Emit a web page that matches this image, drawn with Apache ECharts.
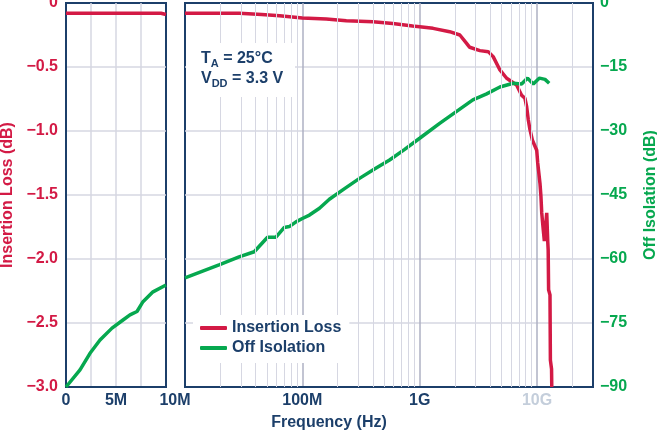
<!DOCTYPE html>
<html>
<head>
<meta charset="utf-8">
<script src="https://cdn.jsdelivr.net/npm/echarts@6/dist/echarts.min.js"></script>
<style>html,body{margin:0;padding:0;background:#fff}#c{width:657px;height:434px}</style>
</head>
<body>
<div id="c"></div>
<script>
// ---- data ----
const linIsoFreq = [0, 1.4e6, 2.4e6, 3.4e6, 4.6e6, 5.7e6, 6.4e6, 7.1e6, 7.7e6, 8.7e6, 10e6];
const linIsoVal  = [-90, -86, -82.1, -79, -76.2, -74.3, -73.1, -72.3, -70, -67.7, -66.1];
const linIlFreq  = [0, 9.5e6, 10e6];
const linIlVal   = [-0.08, -0.08, -0.09];

const logIlFreq = [1e7, 2e7, 2.9e7, 4.5e7, 6.4e7, 1e8, 1.6e8, 2.37e8, 4e8, 5.9e8, 8.7e8, 1.0e9, 1.3e9, 1.8e9, 2.2e9, 2.51e9, 2.67e9, 3.26e9, 3.84e9, 4.23e9, 4.83e9, 5.51e9, 6.7e9, 7.39e9, 7.89e9, 8.16e9, 8.43e9, 8.71e9, 9.12e9, 9.94e9, 1.014e10, 1.06e10, 1.08e10, 1.097e10, 1.13e10, 1.155e10, 1.21e10, 1.234e10, 1.245e10, 1.255e10, 1.29e10, 1.30e10, 1.33e10, 1.336e10];
const logIlVal  = [-0.08, -0.08, -0.08, -0.09, -0.10, -0.117, -0.125, -0.138, -0.146, -0.16, -0.18, -0.185, -0.198, -0.224, -0.25, -0.315, -0.346, -0.372, -0.38, -0.419, -0.523, -0.588, -0.64, -0.72, -0.745, -0.81, -0.914, -0.99, -1.07, -1.15, -1.25, -1.41, -1.51, -1.64, -1.77, -1.86, -1.64, -1.86, -1.93, -2.24, -2.28, -2.79, -2.86, -3.0];

const logIsoFreq = [1e7, 1.95e7, 2.89e7, 3.89e7, 5.05e7, 5.96e7, 7.02e7, 7.74e7, 8.83e7, 1.0e8, 1.15e8, 1.4e8, 1.7e8, 2.29e8, 3.07e8, 4.12e8, 5.54e8, 7.45e8, 1.0e9, 1.48e9, 2.84e9, 3.72e9, 4.83e9, 6.27e9, 7.39e9, 8.3e9, 9.29e9, 1.05e10, 1.17e10, 1.27e10];
const logIsoVal  = [-64.4, -61.4, -59.5, -58.3, -54.9, -54.9, -52.6, -52.4, -51.3, -50.5, -49.7, -48.1, -46.0, -43.5, -41.1, -38.9, -36.8, -34.3, -31.7, -28.2, -22.7, -21.3, -19.7, -18.8, -19.0, -17.6, -19.0, -17.6, -17.9, -18.8];

const ilTickLabels  = {'0':'0','-0.5':'\u22120.5','-1':'\u22121.0','-1.5':'\u22121.5','-2':'\u22122.0','-2.5':'\u22122.5','-3':'\u22123.0'};
const isoTickLabels = {'0':'0','-15':'\u221215','-30':'\u221230','-45':'\u221245','-60':'\u221260','-75':'\u221275','-90':'\u221290'};
const linXTickLabels = {'0':'0','5000000':'5M'};
const logXTickLabels = {7:'{a|10M}', 8:'100M', 9:'1G', 10:'{f|10G}'};

// ---- styles ----
const RED = '#d31a45', GREEN = '#06a84f', NAVY = '#1c3f6a';
const GRID_C = '#d6d7e2', MAJOR_C = '#aeb0c3';
const FONT = '"Liberation Sans", Arial, sans-serif';

const zip = (a, b) => a.map((v, i) => [v, b[i]]);
const minorFreqs = [];
for (let d = 7; d <= 10; d++) for (let k = 2; k <= 9; k++) { const f = k * Math.pow(10, d); if (f < 3e10) minorFreqs.push(f); }

const lbl = (c) => ({ color: c, fontSize: 16, fontWeight: 'bold', fontFamily: FONT });
const split = (c, w) => ({ show: true, showMinLine: false, showMaxLine: false, lineStyle: { color: c, width: w } });

const chart = echarts.init(document.getElementById('c'), null, { renderer: 'canvas' });
chart.setOption({
  animation: false,
  grid: [
    { left: 66, top: 3, width: 100, height: 384, show: true, borderColor: NAVY, borderWidth: 2, backgroundColor: 'transparent', containLabel: false, outerBoundsMode: 'none', z: 0 },
    { left: 185, top: 3, width: 408, height: 384, show: true, borderColor: NAVY, borderWidth: 2, backgroundColor: 'transparent', containLabel: false, outerBoundsMode: 'none', z: 0 }
  ],
  xAxis: [
    { type: 'value', gridIndex: 0, min: 0, max: 10e6, interval: 2.5e6,
      axisLine: { show: true, onZero: false, lineStyle: { color: NAVY, width: 2 } }, axisTick: { show: false },
      splitLine: split(GRID_C, 1.5),
      axisLabel: Object.assign(lbl(NAVY), { margin: 6, showMaxLabel: true,
        formatter: v => linXTickLabels[String(Math.round(v))] || '' }) },
    { type: 'log', gridIndex: 1, min: 1e7, max: 3e10, logBase: 10,
      axisLine: { show: true, onZero: false, lineStyle: { color: NAVY, width: 2 } }, axisTick: { show: false },
      splitLine: split(MAJOR_C, 1.5),
      axisLabel: Object.assign(lbl(NAVY), { margin: 6, showMaxLabel: false,
        rich: { a: { color: NAVY, fontSize: 16, fontWeight: 'bold', fontFamily: FONT, padding: [0, 20, 0, 0] },
                f: { color: '#c4cedb', fontSize: 16, fontWeight: 'bold', fontFamily: FONT } },
        formatter: v => { const e = Math.log10(v); if (Math.abs(e - Math.round(e)) > 1e-6) return ''; return logXTickLabels[Math.round(e)] || ''; } }) }
  ],
  yAxis: [
    { type: 'value', gridIndex: 0, min: -3, max: 0, interval: 0.5,
      name: 'Insertion Loss (dB)', nameLocation: 'middle', nameGap: 50,
      nameTextStyle: lbl(RED),
      axisLine: { show: true, onZero: false, lineStyle: { color: NAVY, width: 2 } }, axisTick: { show: false },
      splitLine: split(GRID_C, 1.5),
      axisLabel: Object.assign(lbl(RED), { margin: 8, formatter: v => ilTickLabels[String(Math.round(v * 10) / 10)] }) },
    { type: 'value', gridIndex: 0, min: -90, max: 0, interval: 15, show: false, splitLine: { show: false } },
    { type: 'value', gridIndex: 1, min: -3, max: 0, interval: 0.5, show: false, splitLine: { show: false } },
    { type: 'value', gridIndex: 1, min: -90, max: 0, interval: 15, position: 'right',
      name: 'Off Isolation (dB)', nameLocation: 'middle', nameGap: 50,
      nameTextStyle: lbl(GREEN),
      axisLine: { show: true, onZero: false, lineStyle: { color: NAVY, width: 2 } }, axisTick: { show: false },
      splitLine: split(GRID_C, 1.5),
      axisLabel: Object.assign(lbl(GREEN), { margin: 7, formatter: v => isoTickLabels[String(Math.round(v))] }) }
  ],
  legend: {
    left: 193, top: 315, orient: 'vertical', backgroundColor: '#fff',
    padding: [5, 8, 7, 7], itemGap: 4, itemWidth: 27, itemHeight: 4, icon: 'roundRect',
    textStyle: lbl(NAVY), z: 10,
    data: ['Insertion Loss', 'Off Isolation']
  },
  series: [
    { type: 'line', xAxisIndex: 1, yAxisIndex: 3, data: [[1e7, -200]], symbol: 'none', silent: true, z: 1,
      lineStyle: { width: 0 },
      markLine: { silent: true, symbol: ['none', 'none'], label: { show: false }, animation: false,
        lineStyle: { color: GRID_C, width: 1, type: 'solid' },
        emphasis: { disabled: true },
        data: minorFreqs.map(f => ({ xAxis: f })) } },
    { name: 'Insertion Loss', type: 'line', xAxisIndex: 0, yAxisIndex: 0, data: zip(linIlFreq, linIlVal),
      symbol: 'none', lineStyle: { color: RED, width: 3.5 }, itemStyle: { color: RED }, z: 3 },
    { name: 'Off Isolation', type: 'line', xAxisIndex: 0, yAxisIndex: 1, data: zip(linIsoFreq, linIsoVal),
      symbol: 'none', lineStyle: { color: GREEN, width: 3.5 }, itemStyle: { color: GREEN }, z: 4 },
    { name: 'Insertion Loss', type: 'line', xAxisIndex: 1, yAxisIndex: 2, data: zip(logIlFreq, logIlVal),
      symbol: 'none', lineStyle: { color: RED, width: 3.5 }, itemStyle: { color: RED }, z: 3 },
    { name: 'Off Isolation', type: 'line', xAxisIndex: 1, yAxisIndex: 3, data: zip(logIsoFreq, logIsoVal),
      symbol: 'none', lineStyle: { color: GREEN, width: 3.5 }, itemStyle: { color: GREEN }, z: 4 }
  ],
  graphic: [
    { type: 'rect', z: 50, shape: { x: 186, y: 43, width: 109, height: 54 }, style: { fill: '#fff' } },
    { type: 'text', z: 51, left: 201, top: 51,
      style: { text: '{b|T}{s|A}{b| = 25°C}\n{b|V}{s|DD}{b| = 3.3 V}',
        rich: { b: { fontSize: 16, fontWeight: 'bold', fontFamily: FONT, fill: NAVY, lineHeight: 20, verticalAlign: 'middle' },
                s: { fontSize: 11, fontWeight: 'bold', fontFamily: FONT, fill: NAVY, lineHeight: 11, verticalAlign: 'bottom' } } } },
    { type: 'text', z: 51, x: 329, y: 423,
      style: { text: 'Frequency (Hz)', fontSize: 16, fontWeight: 'bold', fontFamily: FONT, fill: NAVY,
        textAlign: 'center', textVerticalAlign: 'middle' } }
  ]
});
</script>
</body>
</html>
